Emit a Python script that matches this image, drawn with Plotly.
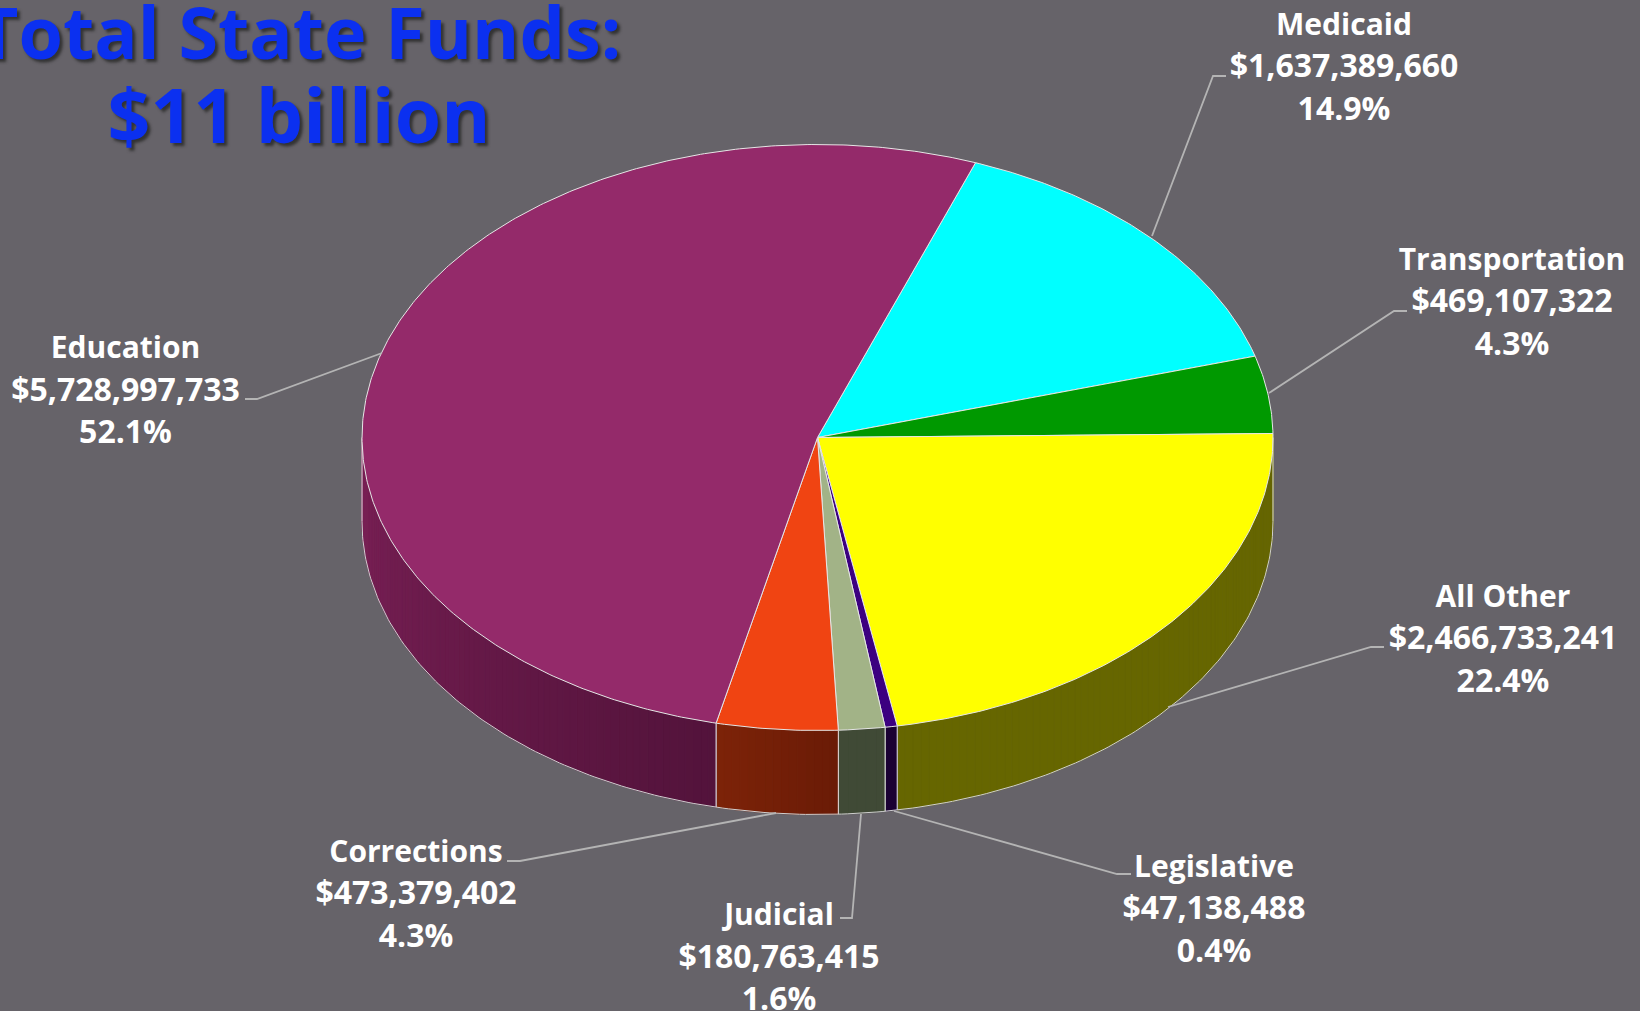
import numpy as np
import plotly.graph_objects as go

# ---- data ----
categories = ["Medicaid", "Transportation", "All Other", "Legislative", "Judicial", "Corrections", "Education"]
amounts = [1637389660, 469107322, 2466733241, 47138488, 180763415, 473379402, 5728997733]
title_lines = ["Total State Funds:", "$11 billion"]

# ---- style ----
top_colors = ["#00ffff", "#009900", "#ffff00", "#3c0080", "#a2b387", "#f04412", "#942a6a"]
side_near = ["#008080", "#004d00", "#666600", "#1a0033", "#404a36", "#6a1b06", "#53133b"]   # right end of the wall
side_far = ["#008080", "#004d00", "#666600", "#1a0033", "#404a36", "#7d2308", "#7b2056"]    # left end of the wall
BG = "#666369"
EDGE = "#e6e6e6"
LEADER = "#b4b4b4"
FONT = "Open Sans"

# ---- layout geometry (pixels) ----
CX, CY, A, B, DEPTH = 817.5, 437.5, 455.5, 293.0, 84.0
START = 20.3
label_x = [1344, 1512, 1503, 1214, 779, 416, 125.5]
label_y = [[27, 69, 112], [262, 304, 347], [599, 641, 684], [869, 911, 954],
           [917, 960, 1002], [854, 896, 939], [350, 393, 435]]
leaders = [[(1226, 76), (1213, 76), (1152, 236)],
           [(1407, 311), (1394, 311), (1269, 393)],
           [(1384, 647), (1371, 647), (1168, 707)],
           [(1131, 874), (1117, 874), (894, 811)],
           [(840, 918), (852, 918), (861, 814)],
           [(507, 861), (520, 861), (776, 813)],
           [(245, 399), (257, 399), (382, 353)]]


def rim(theta_deg):
    t = np.radians(theta_deg)
    return CX + A * np.sin(t), CY - B * np.cos(t)


def hex_rgb(h):
    return np.array([int(h[i:i + 2], 16) for i in (1, 3, 5)], float)


fig = go.Figure()
total = sum(amounts)
edges = START + np.concatenate([[0], np.cumsum(amounts)]) / total * 360.0


def poly(xs, ys, fill, line=None, width=1.0):
    fig.add_trace(go.Scatter(x=xs, y=ys, mode="lines", fill="toself", fillcolor=fill,
                             line=dict(color=line or fill, width=width), hoverinfo="skip"))


# side walls, front half only (90..270 degrees from the top, clockwise)
for i in range(len(amounts)):
    lo, hi = max(edges[i], 90.0), min(edges[i + 1], 270.0)
    if hi <= lo:
        continue
    n = max(1, int((hi - lo) / 1.0))
    steps = np.linspace(lo, hi, n + 1)
    c0, c1 = hex_rgb(side_near[i]), hex_rgb(side_far[i])
    for k in range(n):
        th = np.linspace(steps[k], steps[k + 1], 4)
        x, y = rim(th)
        f = (k + 0.5) / n
        r, g, b = (c0 + (c1 - c0) * f).round().astype(int)
        col = f"rgb({r},{g},{b})"
        poly(np.r_[x, x[::-1], x[0]], np.r_[y, y[::-1] + DEPTH, y[0]], col, col, 0.8)
    # white seams at the wall ends
    for th in (lo, hi):
        x, y = rim(th)
        fig.add_trace(go.Scatter(x=[x, x], y=[y, y + DEPTH], mode="lines",
                                 line=dict(color=EDGE, width=1), hoverinfo="skip"))

# lower rim of the wall
th = np.linspace(90, 270, 241)
x, y = rim(th)
fig.add_trace(go.Scatter(x=x, y=y + DEPTH, mode="lines", line=dict(color="#d0d0d0", width=1), hoverinfo="skip"))

# top face
for i in range(len(amounts)):
    th = np.linspace(edges[i], edges[i + 1], max(3, int((edges[i + 1] - edges[i]) * 2)))
    x, y = rim(th)
    poly(np.r_[CX, x, CX], np.r_[CY, y, CY], top_colors[i], EDGE, 1.0)

# leader lines
for pts in leaders:
    fig.add_trace(go.Scatter(x=[p[0] for p in pts], y=[p[1] for p in pts], mode="lines",
                             line=dict(color=LEADER, width=1.8), hoverinfo="skip"))

# labels
for i, name in enumerate(categories):
    lines = [name, f"${amounts[i]:,}", f"{amounts[i] / total * 100:.1f}%"]
    fig.add_trace(go.Scatter(x=[label_x[i]] * 3, y=label_y[i], mode="text", text=lines,
                             textposition="middle center", cliponaxis=False,
                             textfont=dict(family=FONT, size=[30, 32, 32], color="white", weight=700),
                             hoverinfo="skip"))

# title
fig.add_trace(go.Scatter(x=[299], y=[41], mode="text", text=title_lines[:1],
                         textposition="middle center", cliponaxis=False,
                         textfont=dict(family=FONT, size=72, color="#0b30f0", weight=700,
                                       shadow="3px 3px 3px #333333"),
                         hoverinfo="skip"))
fig.add_trace(go.Scatter(x=[299], y=[124], mode="text", text=title_lines[1:],
                         textposition="middle center", cliponaxis=False,
                         textfont=dict(family=FONT, size=75, color="#0b30f0", weight=700,
                                       shadow="3px 3px 3px #333333"),
                         hoverinfo="skip"))

fig.update_layout(
    width=1640, height=1011, showlegend=False,
    margin=dict(l=0, r=0, t=0, b=0),
    paper_bgcolor=BG, plot_bgcolor=BG,
    xaxis=dict(range=[0, 1640], visible=False, fixedrange=True),
    yaxis=dict(range=[1011, 0], visible=False, fixedrange=True),
)
fig.write_html("out.html", config=dict(displayModeBar=False),
               post_script="document.body.style.margin='0';document.body.style.overflow='hidden';")
